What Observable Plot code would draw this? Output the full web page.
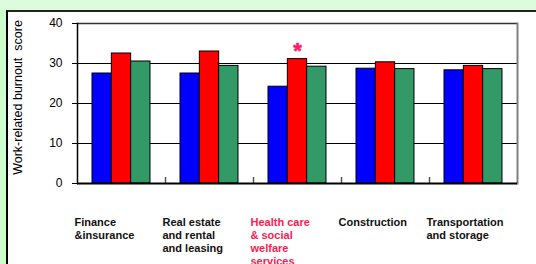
<!DOCTYPE html>
<html>
<head>
<meta charset="utf-8">
<script src="https://cdn.jsdelivr.net/npm/d3@7"></script>
<script src="https://cdn.jsdelivr.net/npm/@observablehq/plot@0.6"></script>
<style>
  html, body { margin: 0; padding: 0; }
  body { width: 536px; height: 264px; background: #ddfcdd; position: relative; overflow: hidden; font-family: "Liberation Sans", Arial, sans-serif; }
  #strip { position: absolute; left: 0; top: 10px; width: 6px; height: 254px; background: #ccfccc; }
  #panel { position: absolute; left: 6px; top: 10px; width: 530px; height: 254px; background: #ffffff; border-left: 2px solid #000; border-top: 2px solid #222; box-sizing: border-box; }
  #chart { position: absolute; left: 0; top: 0; }
</style>
</head>
<body>
<div id="strip"></div>
<div id="panel"></div>
<div id="chart"></div>
<script>
const categories = [
  "Finance\n&insurance",
  "Real estate\nand rental\nand leasing",
  "Health care\n& social\nwelfare\nservices",
  "Construction",
  "Transportation\nand storage"
];
const seriesBlue  = [27.5, 27.5, 24.2, 28.7, 28.3];
const seriesRed   = [32.5, 33.0, 31.1, 30.3, 29.4];
const seriesGreen = [30.5, 29.4, 29.2, 28.6, 28.6];
const yTicks = [0, 10, 20, 30, 40];
const yLabel = "Work-related burnout  score";
const highlighted = categories[2];
const marker = "*";

const rows = categories.map((c, i) => ({category: c, blue: seriesBlue[i], red: seriesRed[i], green: seriesGreen[i]}));

const step = 88, barW = 19.33, inset = (step - barW) / 2;
const font = "Liberation Sans, Arial, sans-serif";

const plot = Plot.plot({
  width: 536,
  height: 264,
  marginLeft: 77,
  marginRight: 19,
  marginTop: 23,
  marginBottom: 81,
  style: {background: "transparent", fontFamily: font, color: "#000"},
  x: {domain: categories, padding: 0, axis: null},
  y: {domain: [0, 40], axis: null},
  marks: [
    Plot.ruleY(yTicks.filter(t => t > 0 && t < 40), {stroke: "#000", strokeWidth: 1}),
    Plot.ruleY([40], {stroke: "#333", strokeWidth: 1.5}),
    Plot.frame({anchor: "right", stroke: "#808080", strokeWidth: 2}),
    Plot.barY(rows, {x: "category", y: "blue", fill: "#0000ff", stroke: "#000", strokeWidth: 1, insetLeft: inset, insetRight: inset, dx: -barW}),
    Plot.barY(rows, {x: "category", y: "red", fill: "#ff0000", stroke: "#000", strokeWidth: 1, insetLeft: inset, insetRight: inset}),
    Plot.barY(rows, {x: "category", y: "green", fill: "#339966", stroke: "#000", strokeWidth: 1, insetLeft: inset, insetRight: inset, dx: barW}),
    Plot.ruleX(categories.slice(0, -1), {x: d => d, dx: step / 2, y1: 0, y2: 1.5, stroke: "#555", strokeWidth: 1.5}),
    Plot.ruleY([0], {stroke: "#000", strokeWidth: 2}),
    Plot.frame({anchor: "left", stroke: "#000", strokeWidth: 1.5}),
    Plot.axisY({ticks: yTicks, tickSize: 5, tickPadding: 10, fontSize: 12, label: null}),
    Plot.text([yLabel], {text: d => d, frameAnchor: "left", textAnchor: "middle", dx: -60, dy: -6, rotate: -90, fontSize: 12.5, letterSpacing: "0.4px"}),
    Plot.text(rows.filter(r => r.category === highlighted), {x: "category", y: "red", text: () => marker, dy: -8, fontSize: 22, fontWeight: "bold", fill: "#ff1a6e", stroke: "#ff1a6e", strokeWidth: 0.6}),
    Plot.text(categories, {x: d => d, text: d => d, frameAnchor: "bottom", dy: 33, dx: -step / 2 - 3, textAnchor: "start", lineAnchor: "top", lineHeight: 1.2, fontSize: 11, fontWeight: "bold", fill: d => d === highlighted ? "#ff1a50" : "#111"})
  ]
});
document.getElementById("chart").appendChild(plot);
</script>
</body>
</html>
